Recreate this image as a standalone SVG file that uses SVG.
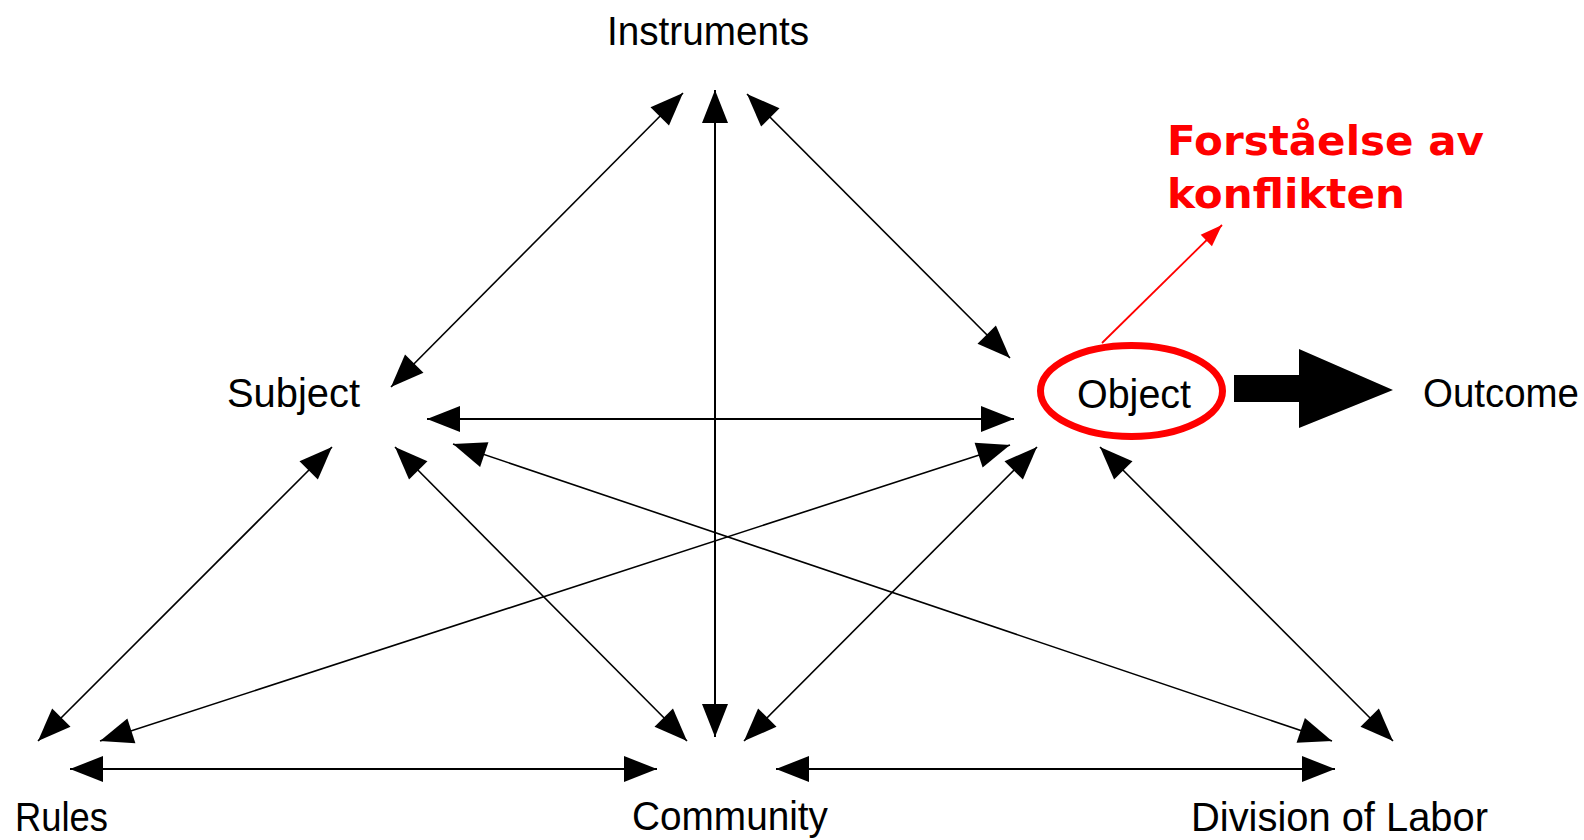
<svg xmlns="http://www.w3.org/2000/svg" width="1584" height="840" viewBox="0 0 1584 840">
<style>
.lbl{font-family:"Liberation Sans",Arial,sans-serif;font-size:40px;fill:#000}
.red{font-family:"DejaVu Sans","Liberation Sans",sans-serif;font-weight:bold;font-size:41px;fill:#ff0000}
.c{stroke:#000;stroke-width:2;fill:none;marker-start:url(#ah);marker-end:url(#ah)}
.d{stroke-width:1.6}
</style>
<defs>
<marker id="ah" markerUnits="userSpaceOnUse" viewBox="-36 -16 40 32" markerWidth="40" markerHeight="32" refX="0" refY="0" orient="auto-start-reverse" overflow="visible">
<path d="M0,0 L-33,-13 L-33,13 Z" fill="#000"/>
</marker>
<marker id="rh" markerUnits="userSpaceOnUse" viewBox="-24 -10 28 20" markerWidth="28" markerHeight="20" refX="0" refY="0" orient="auto" overflow="visible">
<path d="M0,0 L-22,-8 L-22,8 Z" fill="#ff0000"/>
</marker>
</defs>
<rect width="1584" height="840" fill="#fff"/>
<g id="connectors">
<line class="c d" x1="683" y1="93" x2="391" y2="387"/>
<line class="c" x1="715" y1="90" x2="715" y2="737"/>
<line class="c d" x1="747" y1="94" x2="1010" y2="358"/>
<line class="c" x1="427" y1="419" x2="1014" y2="419"/>
<line class="c d" x1="332" y1="447" x2="38" y2="741"/>
<line class="c d" x1="395" y1="447" x2="687" y2="741"/>
<line class="c d" x1="453" y1="444" x2="1332" y2="741"/>
<line class="c d" x1="1010" y1="445" x2="100" y2="741"/>
<line class="c d" x1="1037" y1="447" x2="744" y2="741"/>
<line class="c d" x1="1100" y1="447" x2="1393" y2="741"/>
<line class="c" x1="70" y1="769" x2="657" y2="769"/>
<line class="c" x1="776" y1="769" x2="1335" y2="769"/>
<polygon id="outcome-arrow" points="1234,375 1299,375 1299,349 1393,390 1299,428 1299,402 1234,402" fill="#000"/>
<line x1="1102" y1="343" x2="1222" y2="225" stroke="#ff0000" stroke-width="1.8" marker-end="url(#rh)"/>
</g>
<g id="instruments"><text class="lbl" x="607" y="45" textLength="202" lengthAdjust="spacingAndGlyphs">Instruments</text></g>
<g id="subject"><text class="lbl" x="227" y="407" textLength="133" lengthAdjust="spacingAndGlyphs">Subject</text></g>
<g id="object">
<ellipse cx="1131.5" cy="391" rx="91" ry="45.5" fill="none" stroke="#ff0000" stroke-width="7"/>
<text class="lbl" x="1077" y="408" textLength="114" lengthAdjust="spacingAndGlyphs">Object</text>
</g>
<g id="outcome"><text class="lbl" x="1423" y="407" textLength="156" lengthAdjust="spacingAndGlyphs">Outcome</text></g>
<g id="rules"><text class="lbl" x="15" y="831" textLength="93" lengthAdjust="spacingAndGlyphs">Rules</text></g>
<g id="community"><text class="lbl" x="632" y="830" textLength="196" lengthAdjust="spacingAndGlyphs">Community</text></g>
<g id="division"><text class="lbl" x="1191" y="831" textLength="297" lengthAdjust="spacingAndGlyphs">Division of Labor</text></g>
<g id="annotation">
<text class="red" x="1167" y="155" textLength="317" lengthAdjust="spacingAndGlyphs">Forståelse av</text>
<text class="red" x="1167" y="208" textLength="238" lengthAdjust="spacingAndGlyphs">konflikten</text>
</g>
</svg>
